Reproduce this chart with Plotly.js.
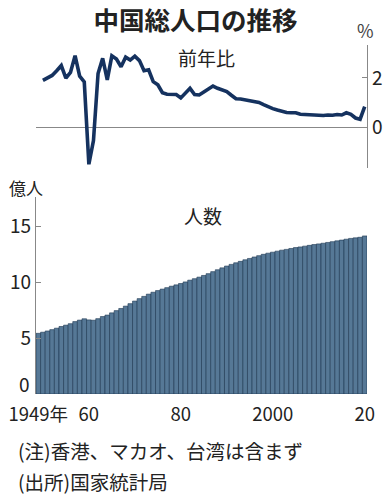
<!DOCTYPE html>
<html><head><meta charset="utf-8">
<script src="https://cdn.plot.ly/plotly-3.0.1.min.js"></script>
<style>html,body{margin:0;padding:0;background:#fff;}#chart{width:391px;height:496px;}</style>
</head><body><div id="chart"></div>
<script>
// 人数 (億人), 1949–2020
const popStartYear = 1949;
const population = [5.42,5.52,5.63,5.75,5.88,6.03,6.15,6.28,6.47,6.60,
  6.72,6.62,6.59,6.73,6.92,7.05,7.25,7.45,7.64,7.85,
  8.07,8.30,8.52,8.72,8.92,9.09,9.24,9.37,9.50,9.63,
  9.75,9.87,10.01,10.17,10.30,10.44,10.59,10.75,10.93,11.10,
  11.27,11.43,11.58,11.72,11.85,11.99,12.11,12.24,12.36,12.48,
  12.58,12.67,12.76,12.85,12.92,13.00,13.08,13.14,13.21,13.28,
  13.35,13.41,13.47,13.54,13.61,13.68,13.75,13.83,13.90,13.95,
  14.00,14.12];
// 前年比 (%), 1950–2020
const growthStartYear = 1950;
const growth = [1.90,2.00,2.10,2.29,2.50,1.99,2.22,2.90,2.07,1.84,
  -1.49,-0.53,2.18,2.79,1.92,2.89,2.76,2.45,2.84,2.72,
  2.88,2.70,2.29,2.33,1.85,1.72,1.40,1.34,1.35,1.33,
  1.19,1.38,1.58,1.33,1.31,1.43,1.56,1.67,1.58,1.51,
  1.45,1.30,1.16,1.15,1.12,1.06,1.05,1.01,0.92,0.82,
  0.76,0.70,0.65,0.60,0.59,0.59,0.53,0.52,0.51,0.49,
  0.48,0.48,0.50,0.49,0.52,0.50,0.59,0.53,0.38,0.33,
  0.84];
const xTickVals = [1949,1960,1980,2000,2020];
const xTickText = ['1949年','60','80','2000','20'];
const popTickVals = [5,10,15];
const popZeroLabel = '0';
const growthTickVals = [0,2];

const popYears = population.map((_,i)=>popStartYear+i);
const growthYears = growth.map((_,i)=>growthStartYear+i);

const numFont = 'Liberation Sans Narrow, Noto Sans CJK JP, sans-serif';
const jpFont = 'Noto Sans CJK JP, sans-serif';
const txt = '#222';

const traces = [
  {type:'scatter', mode:'lines', x:growthYears, y:growth, xaxis:'x', yaxis:'y',
   line:{color:'#15325f', width:3.6}, hoverinfo:'skip'},
  {type:'bar', x:popYears, y:population, xaxis:'x2', yaxis:'y2',
   marker:{color:'#567896', line:{color:'#1d3550', width:0.6}}, hoverinfo:'skip'}
];

const layout = {
  width:391, height:496,
  margin:{l:36, r:24, t:45, b:102},
  paper_bgcolor:'#fff', plot_bgcolor:'rgba(0,0,0,0)',
  showlegend:false, bargap:0,
  title:{text:'<b>中国総人口の推移</b>', x:0.5, xref:'container', xanchor:'center',
    y:1-21/496, yref:'container', yanchor:'middle',
    font:{family:jpFont, size:25.5, color:'#222'}},
  xaxis:{domain:[0,1], range:[1948.5,2020.5], showticklabels:false, ticks:'',
    showgrid:false, zeroline:false, showline:false, anchor:'y'},
  yaxis:{domain:[0.6476,1], range:[-1.64,3.33], side:'right', anchor:'x',
    showline:true, linecolor:'#888', linewidth:1.2, ticks:'inside', ticklen:5, tickcolor:'#888',
    tickvals:growthTickVals, ticktext:growthTickVals.map(String),
    showgrid:false, zeroline:true, zerolinecolor:'#888', zerolinewidth:1.5,
    tickfont:{family:numFont, size:19, color:txt}},
  xaxis2:{domain:[0,1], range:[1948.5,2020.5], anchor:'y2', showline:false, showgrid:false,
    zeroline:false, ticks:'', tickvals:xTickVals, ticktext:xTickText, ticklabelstandoff:7,
    tickfont:{family:numFont, size:18.5, color:txt}},
  yaxis2:{domain:[0,0.5645], range:[0,17.6], anchor:'x2', showline:true, linecolor:'#888',
    linewidth:1.2, ticks:'inside', ticklen:5, tickcolor:'#888', tickvals:popTickVals,
    showgrid:false, zeroline:false, tickfont:{family:numFont, size:19, color:txt}},
  annotations:[
    {text:popZeroLabel, xref:'paper', yref:'y2', x:0, y:0, xanchor:'right', yanchor:'bottom',
     xshift:-4, yshift:-5, showarrow:false, font:{family:numFont, size:19, color:txt}},
    {text:'%', xref:'paper', yref:'paper', x:(365-36)/331, y:(394-30)/349, showarrow:false,
     xanchor:'center', yanchor:'middle', font:{family:numFont, size:18, color:'#444'}},
    {text:'前年比', xref:'paper', yref:'paper', x:(206-36)/331, y:(394-57)/349, showarrow:false,
     xanchor:'center', yanchor:'middle', font:{family:jpFont, size:19, color:txt}},
    {text:'億人', xref:'paper', yref:'paper', x:(26-36)/331, y:(394-188)/349, showarrow:false,
     xanchor:'center', yanchor:'middle', font:{family:jpFont, size:17, color:txt}},
    {text:'人数', xref:'paper', yref:'paper', x:(203-36)/331, y:(394-215)/349, showarrow:false,
     xanchor:'center', yanchor:'middle', font:{family:jpFont, size:19, color:txt}},
    {text:'(注)香港、マカオ、台湾は含まず', xref:'paper', yref:'paper', x:(16-36)/331, y:(394-450)/349,
     showarrow:false, xanchor:'left', yanchor:'middle', font:{family:jpFont, size:19.5, color:txt}},
    {text:'(出所)国家統計局', xref:'paper', yref:'paper', x:(16-36)/331, y:(394-481)/349,
     showarrow:false, xanchor:'left', yanchor:'middle', font:{family:jpFont, size:19.5, color:txt}}
  ]
};

Plotly.newPlot('chart', traces, layout, {staticPlot:true, displayModeBar:false});
</script></body></html>
